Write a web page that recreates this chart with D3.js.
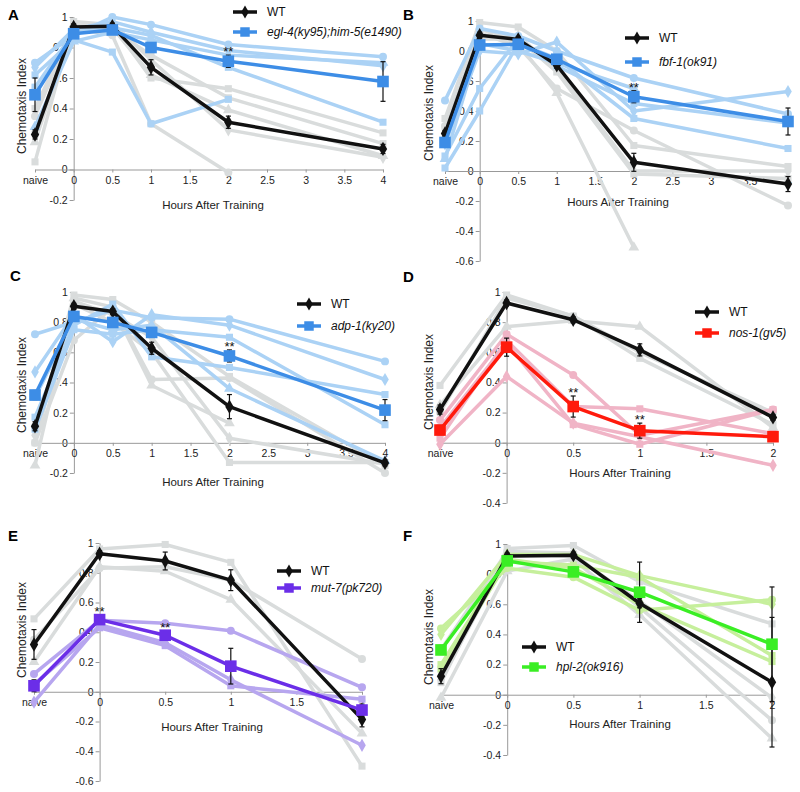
<!DOCTYPE html>
<html><head><meta charset="utf-8">
<script src="https://cdn.jsdelivr.net/npm/d3@7"></script>
<style>body{margin:0;background:#fff} text{font-family:"Liberation Sans",Arial,sans-serif}</style>
</head><body><svg id="c" width="800" height="792"></svg>
<script>
// ---------- DATA ----------
const hoursLong = [0, 0.5, 1, 2, 4];      // time points after the naive point
const hoursShort = [0, 0.5, 1, 2];
const xTicksLong = [0, 0.5, 1, 1.5, 2, 2.5, 3, 3.5, 4];
const xTicksShort = [0, 0.5, 1, 1.5, 2];
const yTicksA = [-0.2, 0, 0.2, 0.4, 0.6, 0.8, 1];
const yTicksB = [-0.6, -0.4, -0.2, 0, 0.2, 0.4, 0.6, 0.8, 1];
const yTicksC = [-0.2, 0, 0.2, 0.4, 0.6, 0.8, 1];
const yTicksD = [-0.4, -0.2, 0, 0.2, 0.4, 0.6, 0.8, 1];
const yTicksE = [-0.6, -0.4, -0.2, 0, 0.2, 0.4, 0.6, 0.8, 1];
const yTicksF = [-0.4, -0.2, 0, 0.2, 0.4, 0.6, 0.8, 1];
const mutantNames = ["egl-4(ky95);him-5(e1490)", "fbf-1(ok91)", "adp-1(ky20)", "nos-1(gv5)", "mut-7(pk720)", "hpl-2(ok916)"];
const naiveLabels = ["naive", "naive", "naive", "naïve", "naive", "naive"];

// values: first entry = naive, then one per hour
// Panel A
const wtA = [0.23, 0.935, 0.94, 0.67, 0.31, 0.135];
const wtErrA = [0.03, 0.02, 0.02, 0.05, 0.04, 0.03];
const mutA = [0.49, 0.89, 0.915, 0.80, 0.71, 0.577];
const mutErrA = [0.11, 0.02, 0.02, 0.03, 0.04, 0.13];
const wtRepsA = [
  [0.05, 0.97, 0.95, 0.60, 0.53, 0.24],
  [0.18, 0.95, 0.93, 0.62, 0.39, 0.09],
  [0.35, 0.93, 0.88, 0.30, -0.02, null],
  [0.25, 0.90, 0.96, 0.72, 0.26, 0.08],
  [0.40, 0.94, 0.92, 0.75, 0.47, 0.17]];
const mutRepsA = [
  [0.70, 0.88, 1.00, 0.95, 0.82, 0.74],
  [0.67, 0.92, 0.97, 0.90, 0.78, 0.68],
  [0.62, 0.85, 0.77, 0.30, 0.46, null],
  [0.54, 0.90, 0.93, 0.88, 0.67, 0.31],
  [0.28, 0.84, 0.90, 0.85, 0.75, 0.70]];
const starsA = [2];

// Panel B
const wtB = [0.25, 0.905, 0.877, 0.705, 0.058, -0.087];
const wtErrB = [0.02, 0.02, 0.02, 0.02, 0.06, 0.05];
const mutB = [0.19, 0.84, 0.845, 0.745, 0.495, 0.33];
const mutErrB = [0.03, 0.03, 0.03, 0.03, 0.04, 0.09];
const wtRepsB = [
  [0.35, 0.99, 0.96, 0.80, 0.17, 0.03],
  [0.22, 0.95, 0.85, 0.52, -0.51, null],
  [0.30, 0.92, 0.83, 0.55, 0.27, -0.23],
  [0.28, 0.90, 0.90, 0.68, 0.00, 0.00],
  [0.20, 0.88, 0.88, 0.66, -0.02, -0.05]];
const mutRepsB = [
  [0.47, 0.95, 0.90, 0.80, 0.62, 0.38],
  [0.18, 0.80, 0.78, 0.86, 0.40, 0.53],
  [0.02, 0.40, 0.85, 0.75, 0.35, 0.15],
  [0.10, 0.55, 0.88, 0.70, 0.45, 0.32],
  [0.08, 0.85, 0.80, 0.72, 0.55, null]];
const starsB = [2];

// Panel C
const wtC = [0.11, 0.905, 0.87, 0.627, 0.24, -0.133];
const wtErrC = [0.03, 0.02, 0.02, 0.04, 0.08, 0.02];
const mutC = [0.317, 0.838, 0.798, 0.732, 0.576, 0.217];
const mutErrC = [0.03, 0.03, 0.03, 0.03, 0.04, 0.07];
const wtRepsC = [
  [0.00, 0.98, 0.95, 0.80, 0.44, -0.15],
  [-0.15, 0.96, 0.90, 0.38, 0.13, null],
  [0.00, 0.68, 0.90, 0.42, 0.43, -0.20],
  [0.05, 0.94, 0.85, 0.70, 0.03, -0.14],
  [0.10, 0.92, 0.80, 0.60, -0.13, -0.13]];
const mutRepsC = [
  [0.72, 0.80, 0.88, 0.83, 0.82, 0.54],
  [0.47, 0.85, 0.67, 0.85, 0.78, 0.42],
  [0.17, 0.78, 0.92, 0.57, 0.50, 0.32],
  [0.09, 0.75, 0.72, 0.75, 0.70, 0.12],
  [0.30, 0.82, 0.75, 0.78, 0.36, -0.12]];
const starsC = [2];

// Panel D
const wtD = [0.22, 0.927, 0.816, 0.616, 0.168];
const wtErrD = [0.03, 0.02, 0.02, 0.04, 0.02];
const mutD = [0.084, 0.634, 0.24, 0.08, 0.04];
const mutErrD = [0.03, 0.06, 0.07, 0.05, 0.03];
const wtRepsD = [
  [0.38, 0.98, 0.84, 0.56, 0.12],
  [0.25, 0.77, 0.81, 0.77, 0.10],
  [0.20, 0.96, 0.84, 0.60, 0.20]];
const mutRepsD = [
  [0.15, 0.72, 0.45, 0.05, 0.22],
  [-0.01, 0.44, 0.13, 0.04, -0.15],
  [0.03, 0.68, 0.24, 0.225, 0.06],
  [0.10, 0.66, 0.12, -0.01, 0.22]];
const starsD = [0.5, 1];

// Panel E
const wtE = [0.318, 0.928, 0.879, 0.75, -0.186];
const wtErrE = [0.1, 0.02, 0.06, 0.07, 0.05];
const mutE = [0.04, 0.485, 0.38, 0.172, -0.123];
const mutErrE = [0.04, 0.03, 0.03, 0.12, 0.04];
const wtRepsE = [
  [0.49, 0.96, 0.99, 0.87, -0.50],
  [0.20, 0.84, 0.81, 0.62, -0.28],
  [0.35, 0.83, 0.84, 0.75, 0.22]];
const mutRepsE = [
  [0.12, 0.48, 0.46, 0.41, 0.03],
  [-0.07, 0.45, 0.33, 0.08, -0.36],
  [0.05, 0.43, 0.31, 0.04, -0.05]];
const starsE = [0, 0.5];

// Panel F
const wtF = [0.123, 0.92, 0.926, 0.607, 0.083];
const wtErrF = [0.05, 0.02, 0.02, 0.03, 0.43];
const mutF = [0.297, 0.888, 0.815, 0.68, 0.335];
const mutErrF = [0.03, 0.03, 0.03, 0.2, 0.38];
const wtRepsF = [
  [0.08, 0.97, 0.99, 0.75, 0.47],
  [-0.02, 0.82, 0.90, 0.53, -0.29],
  [0.30, 0.95, 0.94, 0.58, -0.17],
  [0.10, 0.92, 0.92, 0.62, -0.02]];
const mutRepsF = [
  [0.44, 0.84, 0.78, 0.56, 0.63],
  [0.40, 0.93, 0.93, 0.79, 0.60],
  [0.17, 0.88, 0.86, 0.78, 0.26],
  [0.20, 0.90, 0.84, 0.60, 0.22]];
const starsF = [];

// ---------- LAYOUT / STYLE ----------
const svg = d3.select("#c");
const panels = [
  {L:"A", lx:8, ly:20, hours:hoursLong, ticks:xTicksLong, yT:yTicksA, naive:-0.5, xr:[35,383], yd:[-0.2,1], yr:[200,17],
   wt:wtA, wtE:wtErrA, mut:mutA, mutE:mutErrA, wr:wtRepsA, mr:mutRepsA, stars:starsA,
   mean:"#3d8de6", light:"#abd2f5", name:0, leg:[233,12,32], ylab:[22,106], xlab:[213,209]},
  {L:"B", lx:403, ly:20, hours:hoursLong, ticks:xTicksLong, yT:yTicksB, naive:-0.45, xr:[445,788], yd:[-0.6,1], yr:[261,21],
   wt:wtB, wtE:wtErrB, mut:mutB, mutE:mutErrB, wr:wtRepsB, mr:mutRepsB, stars:starsB,
   mean:"#3d8de6", light:"#abd2f5", name:1, leg:[625,38,62], ylab:[429,113], xlab:[618,206]},
  {L:"C", lx:10, ly:281, hours:hoursLong, ticks:xTicksLong, yT:yTicksC, naive:-0.5, xr:[35,385], yd:[-0.2,1], yr:[473,292],
   wt:wtC, wtE:wtErrC, mut:mutC, mutE:mutErrC, wr:wtRepsC, mr:mutRepsC, stars:starsC,
   mean:"#3d8de6", light:"#abd2f5", name:2, leg:[297,304,326], ylab:[22,385], xlab:[213,486]},
  {L:"D", lx:403, ly:282, hours:hoursShort, ticks:xTicksShort, yT:yTicksD, naive:-0.5, xr:[440,773], yd:[-0.4,1], yr:[503,292],
   wt:wtD, wtE:wtErrD, mut:mutD, mutE:mutErrD, wr:wtRepsD, mr:mutRepsD, stars:starsD,
   mean:"#ff1a0c", light:"#f0b4c6", name:3, leg:[695,312,333], ylab:[429,382], xlab:[620,477]},
  {L:"E", lx:8, ly:541, hours:hoursShort, ticks:xTicksShort, yT:yTicksE, naive:-0.5, xr:[34,362], yd:[-0.6,1], yr:[781,543],
   wt:wtE, wtE:wtErrE, mut:mutE, mutE:mutErrE, wr:wtRepsE, mr:mutRepsE, stars:starsE,
   mean:"#6b2ee8", light:"#b7a6ef", name:4, leg:[277,571,588], ylab:[22,630], xlab:[212,731]},
  {L:"F", lx:403, ly:541, hours:hoursShort, ticks:xTicksShort, yT:yTicksF, naive:-0.5, xr:[441,772], yd:[-0.4,1], yr:[755,544],
   wt:wtF, wtE:wtErrF, mut:mutF, mutE:mutErrF, wr:wtRepsF, mr:mutRepsF, stars:starsF,
   mean:"#3aee24", light:"#c6ef9c", name:5, leg:[522,647,667], ylab:[429,637], xlab:[620,728]}
];
const GRAY = "#d9dcdc";
const shapes = [d3.symbolSquare, d3.symbolTriangle, d3.symbolCircle, d3.symbolDiamond, d3.symbolSquare];
const fmt = d => String(Math.round(d * 10) / 10);

function drawSeries(g, x, y, xs, vals, color, width, shape, size) {
  const pts = vals.map((v, i) => [xs[i], v]).filter(p => p[1] !== null);
  g.append("path").datum(pts)
    .attr("d", d3.line().x(p => x(p[0])).y(p => y(p[1])))
    .attr("fill", "none").attr("stroke", color).attr("stroke-width", width)
    .attr("stroke-linejoin", "round");
  g.selectAll(null).data(pts).enter().append("path")
    .attr("transform", p => `translate(${x(p[0])},${y(p[1])})`)
    .attr("d", d3.symbol().type(shape).size(size))
    .attr("fill", color);
}
function drawErr(g, x, y, xs, vals, errs) {
  xs.forEach((xv, i) => {
    const e = errs[i];
    if (!e) return;
    const px = x(xv), y1 = y(vals[i] + e), y2 = y(vals[i] - e);
    g.append("line").attr("x1", px).attr("x2", px).attr("y1", y1).attr("y2", y2).attr("stroke", "#111").attr("stroke-width", 1.2);
    [y1, y2].forEach(yy => g.append("line").attr("x1", px - 2.5).attr("x2", px + 2.5).attr("y1", yy).attr("y2", yy).attr("stroke", "#111").attr("stroke-width", 1.2));
  });
}

panels.forEach(p => {
  const g = svg.append("g");
  const last = p.hours[p.hours.length - 1];
  const x = d3.scaleLinear().domain([p.naive, last]).range(p.xr);
  const y = d3.scaleLinear().domain(p.yd).range(p.yr);
  const xs = [p.naive].concat(p.hours);

  g.append("text").attr("x", p.lx).attr("y", p.ly).attr("font-size", 15).attr("font-weight", "bold").text(p.L);

  const ya = g.append("g").attr("transform", `translate(${x(0)},0)`)
    .call(d3.axisLeft(y).tickValues(p.yT).tickFormat(fmt).tickSize(4).tickSizeOuter(0));
  ya.select(".domain").attr("stroke", "#999");
  ya.selectAll(".tick line").attr("stroke", "#999");
  ya.selectAll(".tick text").attr("font-size", 10.5).attr("fill", "#222").attr("font-family", "Liberation Sans, Arial, sans-serif").attr("x", -6);

  const xa = g.append("g").attr("transform", `translate(0,${y(0)})`)
    .call(d3.axisBottom(x).tickValues([p.naive].concat(p.ticks))
      .tickFormat(d => d === p.naive ? naiveLabels[p.name] : fmt(d)).tickSize(3).tickSizeOuter(0));
  xa.select(".domain").attr("stroke", "#999");
  xa.selectAll(".tick line").attr("stroke", "#999");
  xa.selectAll(".tick text").attr("font-size", 10.5).attr("fill", "#222").attr("font-family", "Liberation Sans, Arial, sans-serif").attr("y", 7);

  g.append("text").attr("transform", `translate(${p.ylab[0]},${p.ylab[1]}) rotate(-90)`)
    .attr("text-anchor", "middle").attr("dy", "0.35em").attr("font-size", 12).attr("fill", "#222").text("Chemotaxis Index");
  g.append("text").attr("x", p.xlab[0]).attr("y", p.xlab[1]).attr("text-anchor", "middle")
    .attr("font-size", 11.5).attr("fill", "#222").text("Hours After Training");

  p.wr.forEach((r, i) => drawSeries(g, x, y, xs, r, GRAY, 3.5, shapes[i % shapes.length], 50));
  p.mr.forEach((r, i) => drawSeries(g, x, y, xs, r, p.light, 3.5, shapes[(i + 2) % shapes.length], 50));
  drawErr(g, x, y, xs, p.wt, p.wtE);
  drawSeries(g, x, y, xs, p.wt, "#111", 3.5, d3.symbolDiamond, 60);
  drawErr(g, x, y, xs, p.mut, p.mutE);
  drawSeries(g, x, y, xs, p.mut, p.mean, 3.5, d3.symbolSquare, 135);

  p.stars.forEach(h => {
    const i = xs.indexOf(h);
    g.append("text").attr("x", x(h)).attr("y", y(p.mut[i] + p.mutE[i]) + 1).attr("text-anchor", "middle")
      .attr("font-size", 13).attr("fill", "#111").text("**");
  });

  const [lx, ly1, ly2] = p.leg;
  const lw = 24;
  [[ly1, "#111", "WT", d3.symbolDiamond, 50, "normal"], [ly2, p.mean, mutantNames[p.name], d3.symbolSquare, 90, "italic"]]
    .forEach(([ly, c, t, s, sz, st]) => {
      g.append("line").attr("x1", lx).attr("x2", lx + lw).attr("y1", ly).attr("y2", ly).attr("stroke", c).attr("stroke-width", 3.5);
      g.append("path").attr("transform", `translate(${lx + lw / 2},${ly})`).attr("d", d3.symbol().type(s).size(sz)).attr("fill", c);
      g.append("text").attr("x", lx + lw + 10).attr("y", ly).attr("dy", "0.35em").attr("font-size", 12)
        .attr("font-style", st).attr("fill", "#111").text(t);
    });
});
</script></body></html>
